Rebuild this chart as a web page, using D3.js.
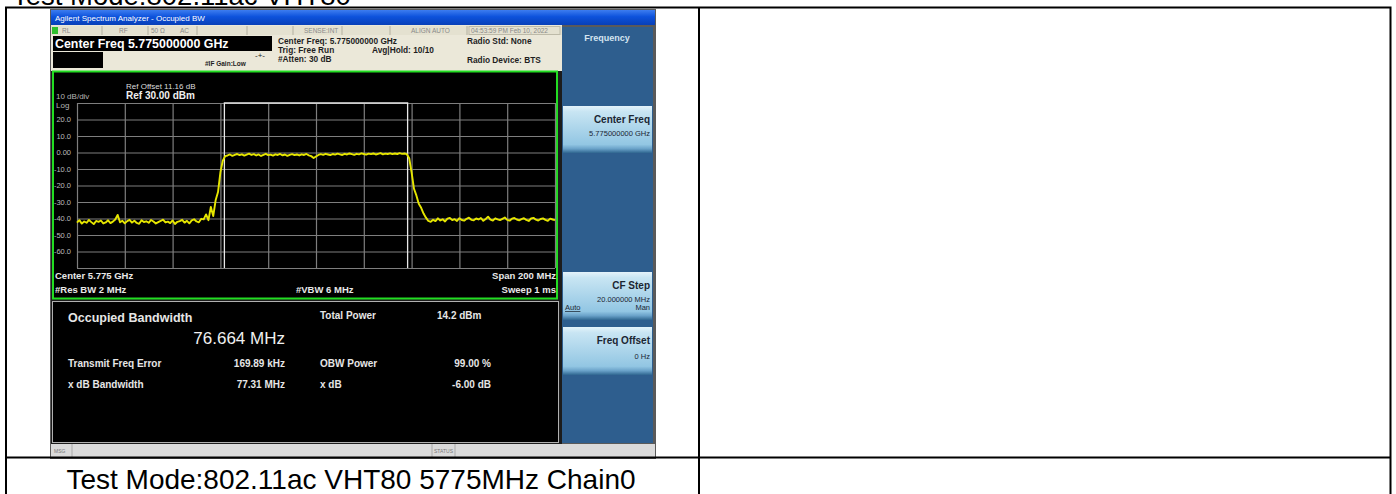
<!DOCTYPE html>
<html>
<head>
<meta charset="utf-8">
<script src="https://cdn.jsdelivr.net/npm/d3@7"></script>
<style>
  body { margin: 0; background: #fff; }
  text { font-family: "Liberation Sans", Arial, sans-serif; }
</style>
</head>
<body>
<script>
// spectrum trace, 1 MHz steps from 5675 MHz (dBm)
var startMHz = 5675,
    spanMHz = 200,
    centerMHz = 5775,
    obwMHz = 76.664;

var traceDbm = [
  -42.5,-41.0,-43.1,-41.8,-42.6,-40.9,-42.2,-43.4,-41.5,-42.0,
  -41.2,-43.0,-42.4,-41.1,-42.8,-41.9,-40.6,-37.8,-42.3,-41.4,
  -42.9,-41.6,-40.8,-42.5,-41.3,-42.7,-43.2,-41.0,-42.1,-41.7,
  -42.6,-40.9,-41.8,-43.0,-42.2,-41.5,-40.7,-42.4,-41.9,-42.8,
  -41.2,-43.3,-42.0,-41.6,-40.8,-42.5,-41.4,-42.9,-41.1,-40.5,
  -41.8,-42.3,-40.2,
  -40.5,-37.5,-41.0,-33.0,-38.5,-29.0,-24.0,-12.0,-5.0,-2.2,
  -1.8,-1.2,-2.0,-1.4,-0.9,-1.6,-1.1,-1.9,-1.3,-0.7,
  -1.5,-1.0,-1.8,-1.2,-2.1,-1.4,-0.8,-1.6,-1.3,-1.9,
  -1.1,-1.5,-0.9,-1.7,-1.2,-2.0,-1.4,-1.0,-1.6,-1.2,
  -1.8,-1.1,-1.5,-0.9,-1.7,-2.2,-3.3,-2.4,-1.5,-1.0,
  -1.4,-0.8,-1.2,-1.6,-0.9,-1.3,-0.7,-1.1,-1.5,-0.8,
  -1.2,-0.6,-1.0,-1.4,-0.8,-1.1,-0.5,-0.9,-1.3,-0.7,
  -1.0,-0.6,-1.2,-0.8,-0.4,-1.1,-0.7,-0.9,-0.5,-1.0,
  -0.6,-0.9,-0.4,-0.8,-0.6,
  -1.0,-3.5,-12.0,-22.0,-26.0,-31.0,-33.5,-37.0,-39.5,-41.5,
  -42.0,-40.8,-41.6,-39.9,-41.2,-40.5,-41.8,-40.1,-39.6,-41.0,
  -40.4,-41.5,-39.8,-40.9,-41.3,-40.2,-39.5,-40.8,-41.1,-40.0,
  -40.6,-39.7,-41.4,-40.3,-38.9,-40.7,-41.2,-39.9,-40.5,-41.0,
  -40.2,-39.4,-40.8,-41.3,-40.1,-39.7,-40.6,-41.1,-40.4,-39.8,
  -40.9,-41.5,-40.0,-39.6,-40.7,-41.2,-40.3,-39.9,-40.8,-41.4,
  -40.1,-40.6,-41.0
];

var yTicks = [20, 10, 0, -10, -20, -30, -40, -50, -60];
var yTickLabels = ["20.0", "10.0", "0.00", "-10.0", "-20.0", "-30.0", "-40.0", "-50.0", "-60.0"];

var statusCells = ["RL", "RF", "50 \u03A9", "AC", "SENSE:INT", "ALIGN AUTO", "04:53:59 PM Feb 10, 2022"];

var resultsLeft = [["Transmit Freq Error", "169.89 kHz"], ["x dB Bandwidth", "77.31 MHz"]];
var resultsRight = [["Total Power", "14.2 dBm"], ["OBW Power", "99.00 %"], ["x dB", "-6.00 dB"]];

var svg = d3.select("body").append("svg")
    .attr("width", 1396)
    .attr("height", 494);

var defs = svg.append("defs");

//gradients for the title bar and soft keys
var tg = defs.append("linearGradient").attr("id", "titleGrad").attr("x1", 0).attr("y1", 0).attr("x2", 0).attr("y2", 1);
tg.append("stop").attr("offset", "0%").attr("stop-color", "#3d7df0");
tg.append("stop").attr("offset", "45%").attr("stop-color", "#0d52dc");
tg.append("stop").attr("offset", "100%").attr("stop-color", "#0840b8");

var kg = defs.append("linearGradient").attr("id", "keyGrad").attr("x1", 0).attr("y1", 0).attr("x2", 0).attr("y2", 1);
kg.append("stop").attr("offset", "0%").attr("stop-color", "#e4f3fa");
kg.append("stop").attr("offset", "12%").attr("stop-color", "#c8e5f3");
kg.append("stop").attr("offset", "82%").attr("stop-color", "#92c6e3");
kg.append("stop").attr("offset", "91%").attr("stop-color", "#6aa2c9");
kg.append("stop").attr("offset", "100%").attr("stop-color", "#2f6690");

//document text above the table (cut off at the top)
svg.append("text")
    .attr("x", 12).attr("y", 5)
    .attr("font-size", 27.5)
    .attr("fill", "#000")
    .text("Test Mode:802.11ac VHT80");

//analyzer window
var win = svg.append("g");

win.append("rect").attr("x", 50).attr("y", 9).attr("width", 606).attr("height", 450).attr("fill", "#5a5a5a");
win.append("rect").attr("x", 51).attr("y", 10).attr("width", 604).attr("height", 15).attr("fill", "url(#titleGrad)");
win.append("text").attr("x", 55).attr("y", 21).attr("font-size", 8).attr("fill", "#fff")
    .text("Agilent Spectrum Analyzer - Occupied BW");

//header area
win.append("rect").attr("x", 51).attr("y", 25).attr("width", 511).attr("height", 46).attr("fill", "#ebe8d9");
win.append("rect").attr("x", 51).attr("y", 71).attr("width", 511).attr("height", 373).attr("fill", "#1c1c1c");

//status row
win.append("rect").attr("x", 51).attr("y", 26).attr("width", 511).attr("height", 9).attr("fill", "#e4e1d0");
win.append("rect").attr("x", 52).attr("y", 27).attr("width", 6).attr("height", 7).attr("fill", "#2fc02f");
var sepX = [102, 148, 197, 247, 293, 342, 390, 467];
win.selectAll(".sep").data(sepX).enter().append("line")
    .attr("x1", function(d) { return d; }).attr("x2", function(d) { return d; })
    .attr("y1", 26).attr("y2", 35)
    .attr("stroke", "#b3b0a0");
var statusX = [62, 119, 151, 180, 304, 411, 471];
win.selectAll(".stat").data(statusCells).enter().append("text")
    .attr("x", function(d, i) { return statusX[i]; })
    .attr("y", 33)
    .attr("font-size", 6.5)
    .attr("fill", "#8a8a8a")
    .text(function(d) { return d; });
win.append("rect").attr("x", 469).attr("y", 26.5).attr("width", 91).attr("height", 8).attr("fill", "none").attr("stroke", "#bdbaa8");

win.append("rect").attr("x", 53).attr("y", 36).attr("width", 219).attr("height", 15).attr("fill", "#000");
win.append("text").attr("x", 55).attr("y", 48).attr("font-size", 12.4).attr("font-weight", "bold").attr("fill", "#fff")
    .text("Center Freq 5.775000000 GHz");
win.append("rect").attr("x", 53).attr("y", 52).attr("width", 50).attr("height", 16).attr("fill", "#000");

var hdr = [
  ["#IF Gain:Low", 205, 66],
  ["Center Freq: 5.775000000 GHz", 278, 44],
  ["Trig: Free Run", 278, 53],
  ["Avg|Hold: 10/10", 372, 53],
  ["#Atten: 30 dB", 278, 62],
  ["Radio Std: None", 467, 44],
  ["Radio Device: BTS", 467, 63]
];
win.selectAll(".hdr").data(hdr).enter().append("text")
    .attr("x", function(d) { return d[1]; })
    .attr("y", function(d) { return d[2]; })
    .attr("font-size", function(d, i) { return i == 0 ? 6.5 : 8.3; })
    .attr("font-weight", "bold")
    .attr("fill", "#1e1e1e")
    .text(function(d) { return d[0]; });
win.append("text").attr("x", 255).attr("y", 58).attr("font-size", 8).attr("fill", "#222").text("-+-");

//plot box
var plotBox = win.append("rect").attr("x", 53).attr("y", 71.5).attr("width", 504).attr("height", 227)
    .attr("fill", "#000").attr("stroke", "#22dd22").attr("stroke-width", 2);

var gx0 = 77, gx1 = 555, gy0 = 103, gy1 = 268;

var x = d3.scaleLinear().domain([startMHz, startMHz + spanMHz]).range([gx0, gx1]);
var y = d3.scaleLinear().domain([-70, 30]).range([gy1, gy0]);

var grid = win.append("g");
grid.append("g")
    .attr("transform", "translate(0," + gy1 + ")")
    .call(d3.axisBottom(x).tickValues(d3.range(startMHz, startMHz + spanMHz + 1, 20)).tickSize(gy1 - gy0).tickFormat(""))
    .call(function(g) {
      g.select(".domain").remove();
      g.selectAll(".tick line").attr("y2", -(gy1 - gy0)).attr("stroke", "#7e7e7e").attr("stroke-width", 1.2);
    });
grid.append("g")
    .attr("transform", "translate(" + gx0 + ",0)")
    .call(d3.axisLeft(y).tickValues(d3.range(-70, 31, 10)).tickSize(0).tickFormat(""))
    .call(function(g) {
      g.select(".domain").remove();
      g.selectAll(".tick line").attr("x2", gx1 - gx0).attr("stroke", "#7e7e7e").attr("stroke-width", 1.2);
    });

//dB labels
var yAxis = win.append("g")
    .attr("transform", "translate(" + (gx0 - 6) + ",0)")
    .call(d3.axisLeft(y).tickValues(yTicks).tickSize(0).tickPadding(0)
          .tickFormat(function(d, i) { return yTickLabels[i]; }));
yAxis.select(".domain").remove();
yAxis.selectAll("text").attr("font-size", 7.5).attr("fill", "#bdbdbd").attr("font-family", "Liberation Sans, Arial, sans-serif");

win.append("text").attr("x", 126).attr("y", 89).attr("font-size", 8).attr("fill", "#dcdcdc").text("Ref Offset 11.16 dB");
win.append("text").attr("x", 126).attr("y", 99).attr("font-size", 10).attr("font-weight", "bold").attr("fill", "#f0f0f0").text("Ref 30.00 dBm");
win.append("text").attr("x", 56).attr("y", 99).attr("font-size", 8).attr("fill", "#b5b5b5").text("10 dB/div");
win.append("text").attr("x", 56).attr("y", 108).attr("font-size", 8).attr("fill", "#b5b5b5").text("Log");

//OBW markers
var m0 = x(centerMHz - obwMHz / 2), m1 = x(centerMHz + obwMHz / 2);
win.append("path")
    .attr("d", "M" + m0 + "," + gy1 + "V" + gy0 + "H" + m1 + "V" + gy1)
    .attr("fill", "none").attr("stroke", "#e8e8e8").attr("stroke-width", 1.3);

//trace
var line = d3.line()
    .x(function(d, i) { return x(startMHz + i * spanMHz / (traceDbm.length - 1)); })
    .y(function(d) { return y(d); });
win.append("path")
    .datum(traceDbm)
    .attr("d", line)
    .attr("fill", "none")
    .attr("stroke", "#e6e600")
    .attr("stroke-width", 1.9)
    .attr("stroke-linejoin", "round");

var foot = [
  ["Center  5.775 GHz", 55, 279, "start"],
  ["#Res BW  2 MHz", 55, 293, "start"],
  ["#VBW  6 MHz", 296, 293, "start"],
  ["Span 200 MHz", 556, 279, "end"],
  ["Sweep  1 ms", 556, 293, "end"]
];
win.selectAll(".foot").data(foot).enter().append("text")
    .attr("x", function(d) { return d[1]; })
    .attr("y", function(d) { return d[2]; })
    .attr("text-anchor", function(d) { return d[3]; })
    .attr("font-size", 9.5).attr("font-weight", "bold").attr("fill", "#e8e8e8")
    .text(function(d) { return d[0]; });

//results panel
win.append("rect").attr("x", 52.5).attr("y", 301.5).attr("width", 506).attr("height", 141)
    .attr("fill", "#000").attr("stroke", "#b0b0b0");
win.append("text").attr("x", 68).attr("y", 322).attr("font-size", 12.5).attr("font-weight", "bold").attr("fill", "#e6e6e6").text("Occupied Bandwidth");
win.append("text").attr("x", 285).attr("y", 344).attr("text-anchor", "end").attr("font-size", 17).attr("fill", "#f0f0f0").text("76.664 MHz");

win.selectAll(".resL").data(resultsLeft).enter().append("g")
    .each(function(d, i) {
      var g = d3.select(this), yy = 367 + i * 21;
      g.append("text").attr("x", 68).attr("y", yy).attr("font-size", 10).attr("font-weight", "bold").attr("fill", "#e6e6e6").text(d[0]);
      g.append("text").attr("x", 285).attr("y", yy).attr("text-anchor", "end").attr("font-size", 10).attr("font-weight", "bold").attr("fill", "#e6e6e6").text(d[1]);
    });
var ryy = [319, 367, 388];
win.selectAll(".resR").data(resultsRight).enter().append("g")
    .each(function(d, i) {
      var g = d3.select(this);
      g.append("text").attr("x", 320).attr("y", ryy[i]).attr("font-size", 10).attr("font-weight", "bold").attr("fill", "#e6e6e6").text(d[0]);
      g.append("text").attr("x", i == 0 ? 437 : 491).attr("y", ryy[i]).attr("text-anchor", i == 0 ? "start" : "end")
          .attr("font-size", 10).attr("font-weight", "bold").attr("fill", "#e6e6e6").text(d[1]);
    });

//message bar
win.append("rect").attr("x", 51).attr("y", 444).attr("width", 604).attr("height", 14).attr("fill", "#dadada");
win.append("line").attr("x1", 72).attr("x2", 72).attr("y1", 444).attr("y2", 458).attr("stroke", "#aaa");
win.append("line").attr("x1", 432).attr("x2", 432).attr("y1", 444).attr("y2", 458).attr("stroke", "#aaa");
win.append("line").attr("x1", 455).attr("x2", 455).attr("y1", 444).attr("y2", 458).attr("stroke", "#aaa");
win.append("text").attr("x", 54).attr("y", 453).attr("font-size", 5).attr("fill", "#777").text("MSG");
win.append("text").attr("x", 434).attr("y", 453).attr("font-size", 5).attr("fill", "#777").text("STATUS");

//soft key panel
win.append("rect").attr("x", 562).attr("y", 27).attr("width", 91).attr("height", 416).attr("fill", "#2e5e8e");
win.append("text").attr("x", 607).attr("y", 41).attr("text-anchor", "middle").attr("font-size", 9).attr("font-weight", "bold").attr("fill", "#d4e4f0").text("Frequency");

var keys = [
  { y: 106, h: 47, title: "Center Freq", sub: "5.775000000 GHz" },
  { y: 272, h: 48, title: "CF Step", sub: "20.000000 MHz" },
  { y: 327, h: 48, title: "Freq Offset", sub: "0 Hz" }
];
var key = win.selectAll(".key").data(keys).enter().append("g");
key.append("rect").attr("x", 563).attr("y", function(d) { return d.y; }).attr("width", 89)
    .attr("height", function(d) { return d.h; }).attr("fill", "url(#keyGrad)");
key.append("text").attr("x", 650).attr("y", function(d) { return d.y + 17; }).attr("text-anchor", "end")
    .attr("font-size", 10).attr("font-weight", "bold").attr("fill", "#1b2633").text(function(d) { return d.title; });
key.append("text").attr("x", 650).attr("y", function(d) { return d.y + (d.title == "Freq Offset" ? 32 : 30); }).attr("text-anchor", "end")
    .attr("font-size", 7.5).attr("fill", "#1b2633").text(function(d) { return d.sub; });
win.append("text").attr("x", 565).attr("y", 310).attr("font-size", 7.5).attr("fill", "#1b2633").attr("text-decoration", "underline").text("Auto");
win.append("text").attr("x", 650).attr("y", 310).attr("text-anchor", "end").attr("font-size", 7.5).attr("fill", "#1b2633").text("Man");

//table lines
var table = svg.append("g").attr("stroke", "#000").attr("stroke-width", 2).attr("fill", "none");
table.append("path").attr("d", "M6,500V7.5H1390.5V500");
table.append("line").attr("x1", 699).attr("x2", 699).attr("y1", 7).attr("y2", 500);
table.append("line").attr("x1", 6).attr("x2", 1390.5).attr("y1", 457.5).attr("y2", 457.5);

svg.append("text")
    .attr("x", 351).attr("y", 489)
    .attr("text-anchor", "middle")
    .attr("font-size", 28)
    .attr("fill", "#000")
    .text("Test Mode:802.11ac VHT80 5775MHz Chain0");
</script>
</body>
</html>
